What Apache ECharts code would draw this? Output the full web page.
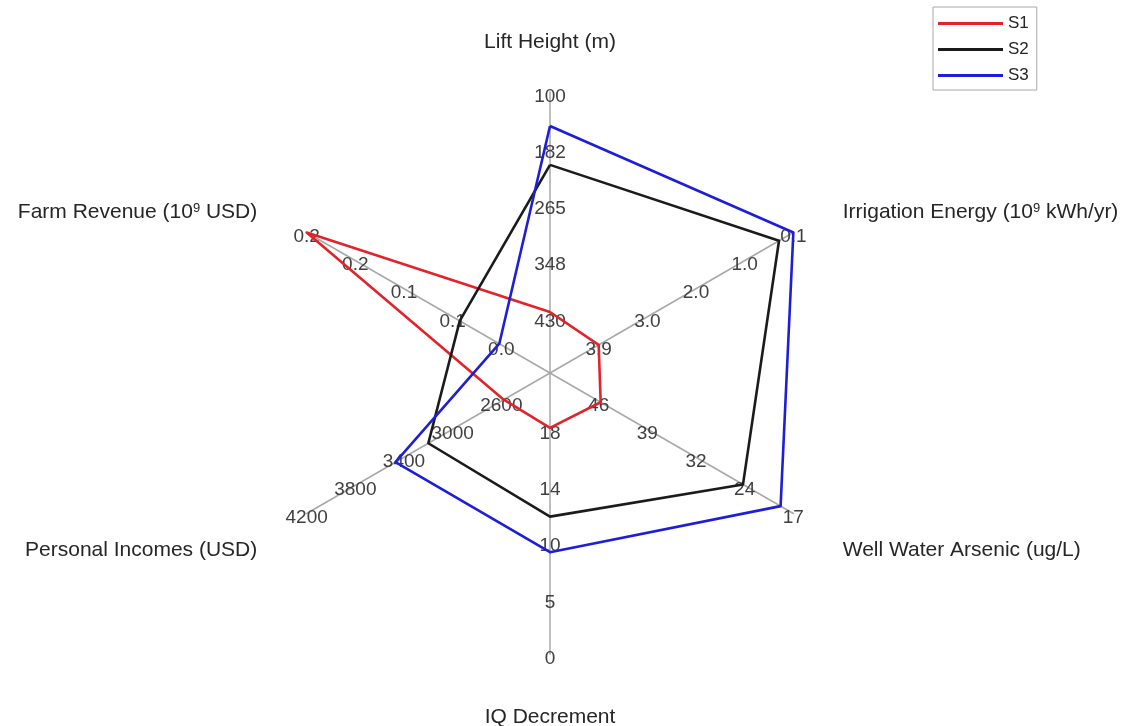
<!DOCTYPE html>
<html>
<head>
<meta charset="utf-8">
<script src="https://cdn.jsdelivr.net/npm/echarts@6/dist/echarts.min.js"></script>
<style>
  html, body { margin: 0; padding: 0; background: #fff; }
  #chart { width: 1130px; height: 726px; }
</style>
</head>
<body>
<div id="chart"></div>
<script>
// Spokes, listed clockwise from the top
const categories = [
  'Lift Height (m)',
  'Irrigation Energy (10{sup|9} kWh/yr)',
  'Well Water Arsenic (ug/L)',
  'IQ Decrement',
  'Personal Incomes (USD)',
  'Farm Revenue (10{sup|9} USD)'
];
// Value at the hub and at the rim of every spoke
const axisInner = [512.5, 4.85, 53.25, 23, 2200, 0];
const axisOuter = [100, 0.1, 17, 0.5, 4200, 0.24];
// Tick labels from the hub outwards
const tickLabels = [
  ['430', '348', '265', '182', '100'],
  ['3.9', '3.0', '2.0', '1.0', '0.1'],
  ['46', '39', '32', '24', '17'],
  ['18', '14', '10', '5', '0'],
  ['2600', '3000', '3400', '3800', '4200'],
  ['0.0', '0.1', '0.1', '0.2', '0.2']
];
const seriesNames = ['S1', 'S2', 'S3'];
const s1 = [423, 3.9, 45.7, 18.6, 2580, 0.24];
const s2 = [207, 0.38, 24.5, 11.5, 3200, 0.089];
const s3 = [150, 0.1, 18.9, 8.65, 3470, 0.05];
const seriesValues = [s1, s2, s3];
const seriesColors = ['#e3222a', '#1b1b1b', '#1e1ed8'];

const FONT = 'Liberation Sans, Arial, Helvetica, sans-serif';

// ECharts lays indicators out counter-clockwise, so walk the spokes in that order.
const order = [0, 5, 4, 3, 2, 1];
// Spokes whose values shrink outwards are negated so the scale grows from the hub.
const signs = axisInner.map((v, i) => (axisOuter[i] < v ? -1 : 1));
const nameGaps = { 0: 39, 3: 53 };

const indicator = order.map(i => {
  const min = signs[i] * axisInner[i];
  const max = signs[i] * axisOuter[i];
  const labels = tickLabels[i];
  const side = i !== 0 && i !== 3;
  return {
    name: categories[i],
    min: min,
    max: max,
    nameGap: nameGaps[i] !== undefined ? nameGaps[i] : 57,
    nameTextStyle: side ? { padding: [16, 0, 0, 0] } : {},
    axisLabel: {
      formatter: function (v) {
        const k = Math.round((v - min) / (max - min) * labels.length);
        return k <= 0 ? '' : labels[k - 1];
      }
    }
  };
});

const chart = echarts.init(document.getElementById('chart'));
chart.setOption({
  animation: false,
  backgroundColor: '#ffffff',
  textStyle: { fontFamily: FONT },
  legend: {
    orient: 'vertical',
    left: 933,
    top: 7,
    data: seriesNames,
    icon: 'rect',
    itemWidth: 65,
    itemHeight: 3,
    itemGap: 9,
    padding: [8, 8, 6, 5],
    borderColor: '#a8a8a8',
    borderWidth: 1,
    selectedMode: false,
    textStyle: { fontSize: 17, color: '#262626', fontFamily: FONT }
  },
  radar: {
    center: [550, 373],
    radius: 281,
    startAngle: 90,
    splitNumber: 5,
    shape: 'polygon',
    indicator: indicator,
    axisName: {
      color: '#262626',
      fontSize: 21,
      fontFamily: FONT,
      rich: {
        sup: { fontSize: 13, verticalAlign: 'top', color: '#262626', fontFamily: FONT }
      }
    },
    axisLine: { show: true, lineStyle: { color: '#a8a8a8', width: 1.5 } },
    axisTick: { show: false },
    splitLine: { show: false },
    splitArea: { show: false },
    axisLabel: {
      show: true,
      margin: 0,
      align: 'center',
      verticalAlign: 'top',
      lineHeight: 9,
      color: '#404040',
      fontSize: 19,
      fontFamily: FONT
    }
  },
  series: [{
    type: 'radar',
    symbol: 'none',
    data: seriesNames.map((name, s) => ({
      name: name,
      value: order.map(i => signs[i] * seriesValues[s][i]),
      lineStyle: { color: seriesColors[s], width: 2.6 },
      itemStyle: { color: seriesColors[s] }
    }))
  }]
});
</script>
</body>
</html>
